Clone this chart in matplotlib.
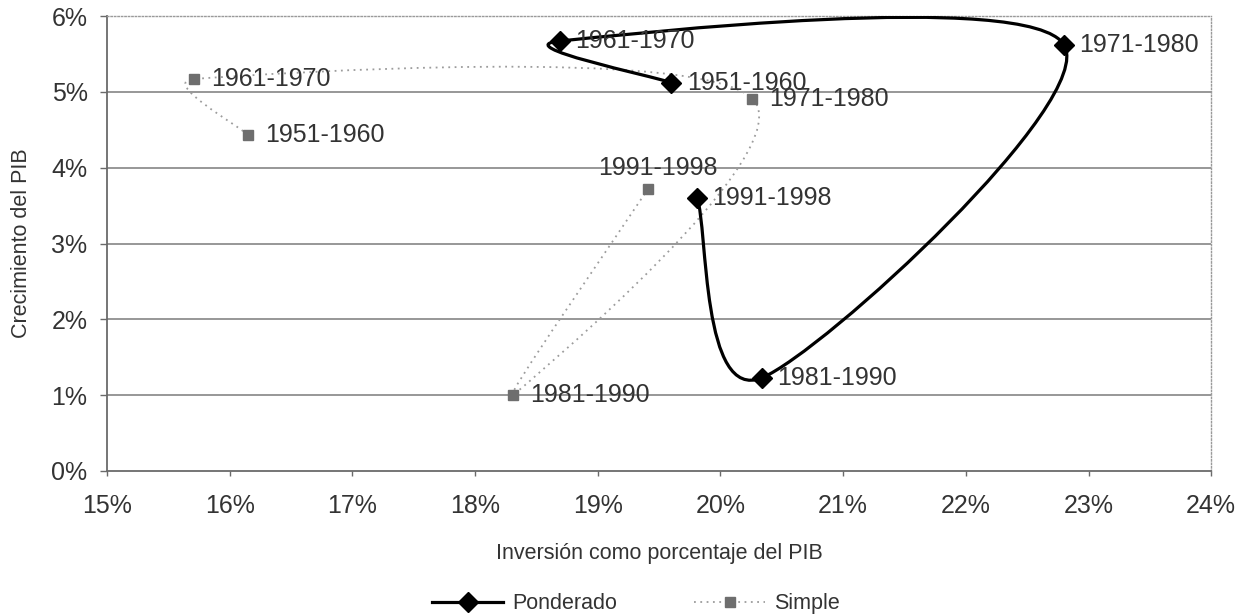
import matplotlib
matplotlib.use("Agg")
import matplotlib.pyplot as plt
import numpy as np
from matplotlib.path import Path
from matplotlib.patches import PathPatch
from matplotlib.lines import Line2D
from matplotlib.ticker import PercentFormatter, MultipleLocator

plt.rcParams['font.family'] = ['Liberation Sans', 'DejaVu Sans']

# datos (en %)
periodos = ['1951-1960', '1961-1970', '1971-1980', '1981-1990', '1991-1998']
inv_ponderado = [19.60, 18.69, 22.80, 20.34, 19.81]
crec_ponderado = [5.12, 5.67, 5.62, 1.23, 3.60]
inv_simple = [16.15, 15.71, 20.26, 18.31, 19.41]
crec_simple = [4.43, 5.17, 4.91, 1.00, 3.72]

TXT = '#333333'


def smooth_path(ax, xs, ys, cap=0.45):
    # curva suavizada tipo Excel: Catmull-Rom -> Bezier, en pixeles,
    # con el punto de control limitado por el largo del tramo
    pts = ax.transData.transform(np.column_stack([xs, ys]))
    n = len(pts)
    verts = [pts[0]]
    codes = [Path.MOVETO]
    for i in range(n - 1):
        p0 = pts[max(i - 1, 0)]
        p1 = pts[i]
        p2 = pts[i + 1]
        p3 = pts[min(i + 2, n - 1)]
        seg = np.linalg.norm(p2 - p1)
        t1 = (p2 - p0) / 6
        t2 = (p3 - p1) / 6
        for t in (t1, t2):
            ln = np.linalg.norm(t)
            if ln > seg * cap:
                t *= seg * cap / ln
        verts += [p1 + t1, p2 - t2, p2]
        codes += [Path.CURVE4] * 3
    verts = ax.transData.inverted().transform(np.array(verts))
    return Path(verts, codes)


fig = plt.figure(figsize=(12.47, 6.16), dpi=100)
ax = fig.add_axes([0.0858, 0.2354, 0.8855, 0.7386])

ax.set_xlim(15, 24)
ax.set_ylim(0, 6)
ax.xaxis.set_major_locator(MultipleLocator(1))
ax.yaxis.set_major_locator(MultipleLocator(1))
ax.xaxis.set_major_formatter(PercentFormatter(100, decimals=0))
ax.yaxis.set_major_formatter(PercentFormatter(100, decimals=0))

for yv in range(1, 6):
    ax.axhline(yv, color='#7a7a7a', lw=1.1, zorder=1)

for s in ['left', 'bottom']:
    ax.spines[s].set_color('#6a6a6a')
    ax.spines[s].set_linewidth(1.3)
for s in ['top', 'right']:
    ax.spines[s].set_color('#9a9a9a')
    ax.spines[s].set_linewidth(1.0)
    ax.spines[s].set_linestyle((0, (1, 1.5)))

ax.tick_params(axis='x', direction='out', length=3.6, width=1, color='#6a6a6a',
               labelsize=18, labelcolor=TXT, pad=13)
ax.tick_params(axis='y', direction='out', length=5, width=1, color='#6a6a6a',
               labelsize=18, labelcolor=TXT, pad=9)

ax.set_xlabel('Inversión como porcentaje del PIB', fontsize=15.5, color=TXT, labelpad=18)
ax.set_ylabel('Crecimiento del PIB', fontsize=15.5, color=TXT, labelpad=14)

# Simple: línea punteada gris
ax.add_patch(PathPatch(smooth_path(ax, inv_simple, crec_simple), fill=False,
                       edgecolor='#9c9c9c', lw=1.3, linestyle=(0, (1, 2.5)), zorder=3))
ax.plot(inv_simple, crec_simple, linestyle='none', marker='s', ms=6.5,
        color='#6e6e6e', zorder=4)

# Ponderado: línea negra
ax.add_patch(PathPatch(smooth_path(ax, inv_ponderado, crec_ponderado), fill=False,
                       edgecolor='black', lw=2.3, zorder=5))
ax.plot(inv_ponderado, crec_ponderado, linestyle='none', marker='D', ms=10,
        color='black', zorder=6)

for lab, x, y in zip(periodos, inv_ponderado, crec_ponderado):
    ax.annotate(lab, (x, y), xytext=(11, 0), textcoords='offset points',
                ha='left', va='center', fontsize=18, color=TXT, zorder=7)

for lab, x, y in zip(periodos, inv_simple, crec_simple):
    if lab == '1991-1998':
        ax.annotate(lab, (x, y), xytext=(7, 15), textcoords='offset points',
                    ha='center', va='center', fontsize=18, color=TXT, zorder=7)
    else:
        ax.annotate(lab, (x, y), xytext=(12, 0), textcoords='offset points',
                    ha='left', va='center', fontsize=18, color=TXT, zorder=7)

handles = [
    Line2D([], [], color='black', lw=2.3, marker='D', ms=10),
    Line2D([], [], color='#9c9c9c', lw=1.3, linestyle=(0, (1, 2.5)), marker='s',
           ms=6.5, markerfacecolor='#6e6e6e', markeredgecolor='#6e6e6e'),
]
fig.legend(handles, ['Ponderado', 'Simple'], loc='center', bbox_to_anchor=(0.51, 0.02),
           ncol=2, frameon=False, fontsize=15.5, labelcolor=TXT, handlelength=3.3,
           handletextpad=0.4, columnspacing=3.6)

fig.savefig('out.png', dpi=100)
